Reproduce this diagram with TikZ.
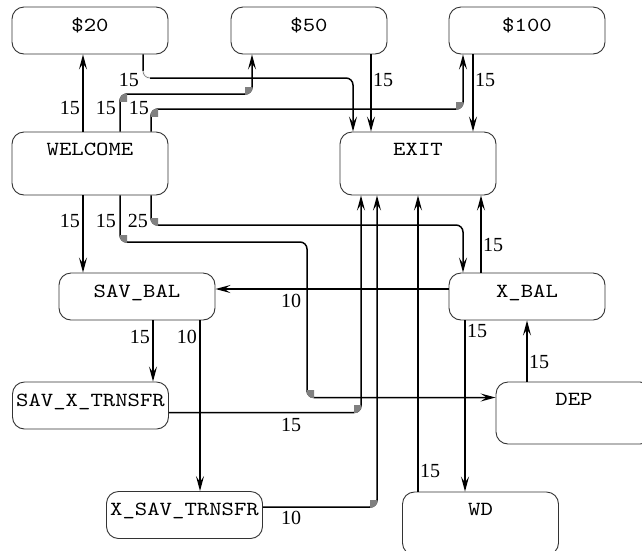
\documentclass[tikz,border=0pt]{standalone}
\usepackage{fontspec}
\setmainfont{Liberation Serif}
\newfontfamily\lblfont{Liberation Serif}
\newfontfamily\monofnt{lmmono10-regular}[Extension=.otf,FakeStretch=1.18]
\usetikzlibrary{arrows.meta}
\newcommand\gcorner[2]{\begin{scope}\clip (#1) rectangle (#2); \fill[gray] (#1) circle[radius=7.8pt];\end{scope}}
\begin{document}
\begin{tikzpicture}[x=1pt,y=-1pt,
  box/.style={draw=black!80,line width=0.9pt,rounded corners=12pt,minimum width=156pt,
    inner xsep=0pt,inner ysep=0pt,font=\monofnt\fontsize{20}{22}\selectfont},
  sbox/.style={box,text height=24pt,text depth=23pt},
  tbox/.style={box,text height=23pt,text depth=40pt},
  edge/.style={line width=1.5pt,-{Stealth[length=15pt,width=8pt,inset=6pt]}},
  lbl/.style={inner sep=0pt,font=\lblfont\fontsize{20}{22}\selectfont}]
\fill[white] (0,0) rectangle (642,550);
\useasboundingbox (0,0) rectangle (642,550);
\clip (0,0) rectangle (642,550);
% nodes
\node[sbox] (d20) at (90,30.5) {\$20};
\node[sbox] (d50) at (309,30.5) {\$50};
\node[sbox] (d100) at (527,30.5) {\$100};
\node[tbox] (wel) at (90,163.5) {WELCOME};
\node[tbox] (exit) at (418,163.5) {EXIT};
\node[sbox] (savbal) at (137,296.5) {SAV\_BAL};
\node[sbox] (xbal) at (527,296.5) {X\_BAL};
\node[sbox] (savx) at (90.5,405.5) {SAV\_X\_TRNSFR};
\node[sbox] (xsav) at (184.5,515) {X\_SAV\_TRNSFR};
\node[tbox,text depth=39pt] (dep) at (574,413) {DEP};
\node[tbox] (wd) at (480.5,523.5) {WD};
% helper columns and rows
\foreach \c in {83,120,143,151,153,200,252,307,353,361,371,377,418,463,465,473,481,527}
  {\coordinate (c\c) at (\c,0);}
\coordinate (r78) at (0,78);
\coordinate (r94) at (0,94);
\coordinate (r109) at (0,109);
\coordinate (r225) at (0,225);
\coordinate (r242) at (0,242);
\coordinate (r289) at (0,289);
\coordinate (r397) at (0,397.5);
\coordinate (r412) at (0,412.5);
\coordinate (r507) at (0,507);
% edges
\draw[edge] (c83 |- wel.north) -- (c83 |- d20.south);
\draw[edge,rounded corners=7pt] (c120 |- wel.north) -- (c120 |- r94) -- (c252 |- r94) -- (c252 |- d50.south);
\draw[edge,rounded corners=7pt] (c151 |- wel.north) -- (c151 |- r109) -- (c463 |- r109) -- (c463 |- d100.south);
\draw[edge] (c371 |- d50.south) -- (c371 |- exit.north);
\draw[edge] (c473 |- d100.south) -- (c473 |- exit.north);
\draw[edge,rounded corners=7pt] (c143 |- d20.south) -- (c143 |- r78) -- (c353 |- r78) -- (c353 |- exit.north);
\draw[edge] (c83 |- wel.south) -- (c83 |- savbal.north);
\draw[edge,rounded corners=7pt] (c120 |- wel.south) -- (c120 |- r242) -- (c307 |- r242) -- (c307 |- r397) -- (dep.west |- r397);
\draw[edge,rounded corners=7pt] (c151 |- wel.south) -- (c151 |- r225) -- (c463 |- r225) -- (c463 |- xbal.north);
\draw[edge] (xbal.west |- r289) -- (savbal.east |- r289);
\draw[edge] (c481 |- xbal.north) -- (c481 |- exit.south);
\draw[edge] (c153 |- savbal.south) -- (c153 |- savx.north);
\draw[edge] (c200 |- savbal.south) -- (c200 |- xsav.north);
\draw[edge,rounded corners=7pt] (savx.east |- r412) -- (c361 |- r412) -- (c361 |- exit.south);
\draw[edge,rounded corners=7pt] (xsav.east |- r507) -- (c377 |- r507) -- (c377 |- exit.south);
\draw[edge] (c418 |- wd.north) -- (c418 |- exit.south);
\draw[edge] (c465 |- xbal.south) -- (c465 |- wd.north);
\draw[edge] (c527 |- dep.north) -- (c527 |- xbal.south);
% corner marks
\gcorner{127,101}{120,94}
\gcorner{245,87}{252,94}
\gcorner{158,116}{151,109}
\gcorner{456,102}{463,109}
\gcorner{127,235}{120,242}
\gcorner{314,390.5}{307,397.5}
\gcorner{158,218}{151,225}
\gcorner{354,405.5}{361,412.5}
\gcorner{370,500}{377,507}
\draw[white,line width=2.5pt,rounded corners=7pt] (143,71) -- (143,78) -- (150,78);
\draw[gray,line width=0.7pt,rounded corners=7pt] (143,71) -- (143,78) -- (150,78);
% labels
\node[lbl,anchor=east] (l1) at (80,108) {15};
\node[lbl,anchor=east] (l2) at (116,108) {15};
\node[lbl,anchor=east] (l3) at (149,108) {15};
\node[lbl,anchor=west] (l4) at (373,80) {15};
\node[lbl,anchor=west] (l5) at (475,80) {15};
\node[lbl,anchor=east] (l6) at (139,80) {15};
\node[lbl,anchor=east] (l7) at (80,221) {15};
\node[lbl,anchor=east] (l8) at (116,221) {15};
\node[lbl,anchor=east] (l9) at (148,221) {25};
\node[lbl] (l10) at (291,300.5) {10};
\node[lbl,anchor=west] (l11) at (483,245) {15};
\node[lbl,anchor=east] (l12) at (150,337) {15};
\node[lbl,anchor=east] (l13) at (197,337) {10};
\node[lbl] (l14) at (291,425) {15};
\node[lbl] (l15) at (291,518) {10};
\node[lbl,anchor=west] (l16) at (420,471) {15};
\node[lbl,anchor=west] (l17) at (467,331) {15};
\node[lbl,anchor=west] (l18) at (529,362) {15};
\end{tikzpicture}
\end{document}
